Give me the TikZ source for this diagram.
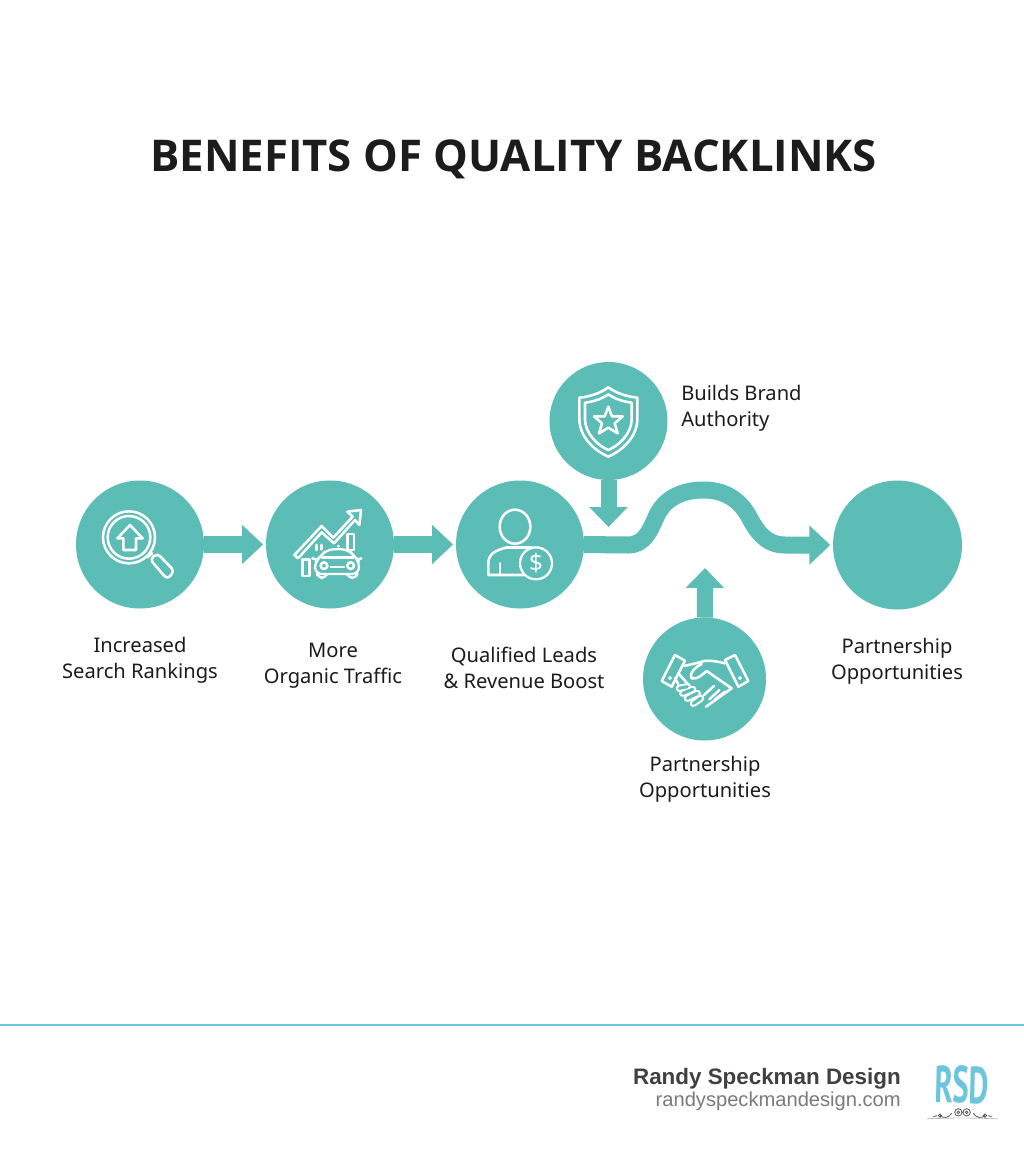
\documentclass[tikz,border=0pt]{standalone}
\usepackage{fontspec}
\usetikzlibrary{arrows.meta}
\setmainfont{Noto Sans}
\newfontfamily\titlefont{Open Sans}
\newfontfamily\footfont{Liberation Sans}
\newfontfamily\logofont{PT Sans}
\definecolor{teal1}{HTML}{5BBDB6}
\definecolor{rulecol}{HTML}{6CC5DD}
\definecolor{inkcol}{HTML}{1C1C1C}
\tikzset{
  dot/.style={circle,fill=teal1,draw=none,inner sep=0pt,outer sep=0pt,minimum size=#1*0.75pt},
  flow/.style={draw=teal1,line width=12.75pt,-{Triangle[length=15.75pt,width=28.5pt]}},
  vflow/.style={draw=teal1,line width=12pt,-{Triangle[length=15pt,width=28pt]}},
  lbl/.style={font=\fontsize{15.1pt}{19.6pt}\selectfont,text=inkcol,align=center,inner sep=0pt},
  icon/.style={draw=white,line width=1.9pt,line join=round,line cap=round},
  iconf/.style={draw=white,line width=1.7pt,line join=round,line cap=round,fill=teal1},
  fingerout/.style={draw=white,line width=5.4pt,line cap=round},
  fingerin/.style={draw=teal1,line width=2.4pt,line cap=round},
}
\begin{document}
\begin{tikzpicture}[x=0.75pt,y=-0.75pt]
\useasboundingbox (0,0) rectangle (1024,1154);
\fill[white] (0,0) rectangle (1024,1154);
\node[inner sep=0pt,anchor=base,text=inkcol,font=\titlefont\bfseries\fontsize{32.8pt}{36pt}\selectfont] (title) at (513.5,171) {BENEFITS OF QUALITY BACKLINKS};

\node[dot=128] (c1) at (140,544.5) {};
\node[dot=128] (c2) at (330,544.5) {};
\node[dot=128] (c3) at (520,544.5) {};
\node[dot=118] (c4) at (608.5,421) {};
\node[dot=123] (c5) at (704.5,679) {};
\node[dot=129] (c6) at (897.5,545) {};
\coordinate (tipdown) at (608.5,527);
\coordinate (tipup) at (705,568);

\draw[flow,shorten >=2.2pt] (c1) -- (c2);
\draw[flow,shorten >=2.2pt] (c2) -- (c3);
\draw[flow,shorten >=2pt] (c3.east) -- (628,545) .. controls (645,545) and (650,530) .. (657,515) .. controls (665,498) and (683,490) .. (703,490) .. controls (723,490) and (738,498) .. (748,515) .. controls (756,530) and (765,545) .. (785,545) -- (c6.west);
\draw[vflow] (c4) -- (tipdown);
\draw[vflow] (c5) -- (tipup);

% magnifier
\begin{scope}[shift={(60,470)},x=0.25pt,y=-0.25pt]
  \draw[icon] (207,202) circle (78);
  \draw[icon] (207,202) circle (64);
  \draw[icon] (210,165) -- (248,205) -- (228,205) -- (228,240) -- (190,240) -- (190,205) -- (172,205) -- cycle;
  \draw[icon] (262,262) -- (276,250);
  \draw[icon,rounded corners=3pt] (270,268) -- (292,250) -- (343,303) -- (322,328) -- cycle;
\end{scope}
% chart and car
\begin{scope}[shift={(60,470)},x=0.25pt,y=-0.25pt]
  \draw[icon] (703,255) -- (785,168) -- (820,203) -- (878,140) -- (862,125) -- (903,120) -- (898,165) -- (885,150) -- (822,220) -- (785,187) -- (714,265) -- cycle;
  \draw[icon] (728,268) rectangle (748,318);
  \draw[icon] (862,192) rectangle (882,240);
  \draw[icon] (770,225) -- (770,240) (785,225) -- (785,238);
  \draw[iconf,rounded corners=4pt] (772,300) -- (772,324) -- (800,324) -- (800,300) -- cycle;
  \draw[iconf,rounded corners=4pt] (862,300) -- (862,324) -- (892,324) -- (892,300) -- cycle;
  \draw[iconf,rounded corners=5pt] (766,312) -- (764,275) -- (782,260) -- (800,238) -- (865,238) -- (884,260) -- (898,275) -- (896,312) -- cycle;
  \draw[icon] (786,262) -- (880,262);
  \draw[icon] (757,265) -- (768,268) (893,268) -- (904,265);
  \draw[icon] (792,287) circle (10);
  \draw[icon] (872,287) circle (10);
  \draw[icon] (812,291) -- (852,291);
  \draw[icon] (835,228) -- (835,229);
\end{scope}
% person, shield
\begin{scope}[shift={(450,355)},x=0.25pt,y=-0.25pt]
  \draw[icon] (195,515) ellipse (46 and 51);
  \draw[icon] (222,660) -- (115,660) -- (115,625) .. controls (115,595) and (140,585) .. (168,578);
  \draw[icon] (168,578) -- (245,578);
  \draw[icon] (150,625) -- (150,660);
  \draw[iconf] (258,625) circle (48);
  \node[inner sep=0pt,text=white,font=\fontsize{18pt}{18pt}\selectfont] (dollar) at (258,625) {\$};
  % shield
  \draw[icon] (475,97) .. controls (450,115) and (420,125) .. (388,128) -- (388,195) .. controls (390,245) and (430,285) .. (475,305) .. controls (520,285) and (560,245) .. (562,195) -- (562,128) .. controls (530,125) and (500,115) .. (475,97) -- cycle;
  \draw[icon] (475,118) .. controls (455,132) and (430,140) .. (405,143) -- (405,195) .. controls (407,235) and (440,270) .. (475,285) .. controls (510,270) and (543,235) .. (545,195) -- (545,143) .. controls (520,140) and (495,132) .. (475,118) -- cycle;
  \draw[icon] (475,155) -- (486,184) -- (518,184) -- (494,205) -- (503,235) -- (475,218) -- (447,235) -- (456,205) -- (432,184) -- (464,184) -- cycle;
\end{scope}
% handshake
\begin{scope}[shift={(630,610)},x=0.25pt,y=-0.25pt]
  \draw[icon] (95,213) -- (135,135) -- (165,152) -- (125,230) -- cycle;
  \draw[icon] (285,150) -- (315,135) -- (355,213) -- (325,230) -- cycle;
  \draw[icon] (120,204) circle (2);
  \draw[icon] (330,204) circle (2);
  \draw[icon] (163,168) -- (205,158) .. controls (225,150) and (245,150) .. (285,160);
  \draw[icon] (185,205) .. controls (175,195) and (195,170) .. (215,162);
  \draw[icon] (185,205) .. controls (205,208) and (215,195) .. (230,183) -- (305,235);
  \draw[icon] (305,235) -- (228,290);
  \draw[icon] (135,205) -- (145,222) (145,190) -- (185,235) -- (218,262);
  \draw[icon] (222,255) -- (252,228) (238,268) -- (268,240) (255,268) -- (285,245);
  \foreach \ax/\ay/\bx/\by in {148/235/172/230, 158/250/188/238, 172/265/202/250, 190/280/212/265}{
    \draw[fingerout] (\ax,\ay) -- (\bx,\by);
  }
  \foreach \ax/\ay/\bx/\by in {148/235/172/230, 158/250/188/238, 172/265/202/250, 190/280/212/265}{
    \draw[fingerin] (\ax,\ay) -- (\bx,\by);
  }
\end{scope}

\node[lbl] (l1) at (140,660) {Increased\\Search Rankings};
\node[lbl] (l2) at (333,666) {More\\Organic Traffic};
\node[lbl] (l3) at (524,668) {Qualified Leads\\\& Revenue Boost};
\node[lbl,align=left,anchor=west] (l4) at (681,408.5) {Builds Brand\\Authority};
\node[lbl] (l5) at (897,661) {Partnership\\Opportunities};
\node[lbl] (l6) at (705,779) {Partnership\\Opportunities};

\coordinate (ruleL) at (0,1025);
\coordinate (ruleR) at (1024,1025);
\draw[rulecol,line width=2.2pt] (ruleL) -- (ruleR);
\node[anchor=east,inner sep=0pt,text=black!75,font=\footfont\bfseries\fontsize{16.8pt}{20pt}\selectfont] (f1) at (901,1079) {Randy Speckman Design};
\node[anchor=east,inner sep=0pt,text=black!52,font=\footfont\fontsize{15.1pt}{18pt}\selectfont] (f2) at (901,1101) {randyspeckmandesign.com};
\node[inner sep=0pt,text=rulecol,rotate=-1.5] (logo) at (962,1085) {\scalebox{0.72}[1.22]{\logofont\bfseries\fontsize{32pt}{32pt}\selectfont RSD}};
\begin{scope}[shift={(620,1050)},x=0.25pt,y=-0.25pt]
  \draw[black!45,line width=0.3pt] (920,207) .. controls (960,203) and (1090,203) .. (1135,207);
  \draw[black!65,line width=0.6pt] (1015,187) circle (11) (1015,187) circle (4) (1040,187) circle (11) (1040,187) circle (4);
  \draw[black!65,line width=0.6pt] (995,190) .. controls (985,205) and (970,205) .. (960,197) (960,197) circle (5);
  \draw[black!65,line width=0.6pt] (1060,190) .. controls (1070,205) and (1085,205) .. (1095,197) (1095,197) circle (5);
  \draw[black!65,line width=0.6pt] (940,200) -- (952,197) (1105,197) -- (1115,200);
\end{scope}
\end{tikzpicture}
\end{document}
